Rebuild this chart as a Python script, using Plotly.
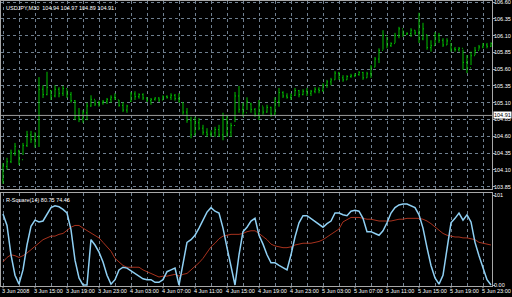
import plotly.graph_objects as go

# ---------------- data ----------------
high = [104.20, 104.28, 104.40, 104.50, 104.40, 104.50, 104.68, 104.68, 104.66, 105.48,
        105.36, 105.56, 105.29, 105.36, 105.33, 105.35, 105.30, 105.26, 105.14, 105.02,
        104.99, 105.10, 105.21, 105.14, 105.13, 105.14, 105.17, 105.21, 105.24, 105.14,
        105.11, 105.07, 105.26, 105.27, 105.24, 105.24, 105.18, 105.17, 105.18, 105.18,
        105.21, 105.21, 105.24, 105.23, 105.24, 105.10, 105.02, 104.89, 104.89, 104.87,
        104.77, 104.72, 104.69, 104.74, 104.77, 104.95, 104.92, 104.80, 105.26, 105.35,
        105.10, 105.18, 105.10, 105.02, 105.14, 105.04, 105.07, 105.04, 105.18, 105.32,
        105.27, 105.24, 105.24, 105.32, 105.29, 105.30, 105.32, 105.29, 105.33, 105.33,
        105.39, 105.44, 105.47, 105.57, 105.56, 105.51, 105.51, 105.53, 105.54, 105.57,
        105.56, 105.56, 105.66, 105.78, 105.91, 106.18, 106.08, 106.00, 106.14, 106.23,
        106.18, 106.15, 106.21, 106.18, 106.44, 106.29, 106.11, 106.03, 106.15, 106.14,
        106.06, 106.06, 105.99, 105.93, 105.93, 105.89, 105.81, 105.86, 105.93, 105.96,
        105.99, 105.99, 106.00]
low = [103.89, 104.10, 104.20, 104.31, 104.17, 104.32, 104.44, 104.50, 104.43, 104.44,
       105.17, 105.21, 105.14, 105.18, 105.18, 105.20, 105.17, 105.10, 104.84, 104.81,
       104.80, 104.84, 105.04, 105.05, 105.04, 105.07, 105.08, 105.10, 105.14, 105.04,
       104.96, 104.95, 105.11, 105.14, 105.16, 105.14, 105.11, 105.07, 105.13, 105.11,
       105.14, 105.16, 105.14, 105.13, 105.10, 104.92, 104.80, 104.57, 104.62, 104.69,
       104.62, 104.59, 104.59, 104.59, 104.59, 104.54, 104.59, 104.59, 104.81, 104.95,
       104.89, 104.99, 104.95, 104.89, 104.84, 104.92, 104.95, 104.89, 104.92, 105.04,
       105.17, 105.16, 105.14, 105.20, 105.18, 105.21, 105.20, 105.20, 105.24, 105.24,
       105.26, 105.32, 105.36, 105.44, 105.44, 105.41, 105.44, 105.47, 105.48, 105.50,
       105.44, 105.47, 105.47, 105.63, 105.69, 105.89, 105.91, 105.93, 105.99, 106.06,
       106.08, 106.11, 106.08, 106.11, 105.99, 106.03, 105.89, 105.86, 105.96, 105.99,
       105.93, 105.96, 105.86, 105.86, 105.86, 105.59, 105.54, 105.66, 105.81, 105.89,
       105.91, 105.91, 105.93]
open_ = [103.95, 104.15, 104.22, 104.35, 104.38, 104.25, 104.46, 104.62, 104.55, 104.60,
         105.30, 105.22, 105.28, 105.20, 105.30, 105.24, 105.31, 105.22, 105.13, 104.90,
         104.86, 104.95, 105.05, 105.15, 105.08, 105.10, 105.12, 105.15, 105.18, 105.14,
         105.06, 104.99, 105.12, 105.23, 105.19, 105.22, 105.17, 105.13, 105.15, 105.17,
         105.14, 105.19, 105.18, 105.21, 105.16, 105.10, 104.96, 104.84, 104.62, 104.80,
         104.72, 104.66, 104.63, 104.65, 104.70, 104.62, 104.85, 104.66, 104.76, 105.20,
         105.00, 104.95, 105.08, 105.00, 104.93, 105.05, 104.96, 105.03, 104.93, 105.12,
         105.25, 105.20, 105.18, 105.21, 105.28, 105.22, 105.27, 105.24, 105.27, 105.30,
         105.28, 105.36, 105.41, 105.44, 105.54, 105.47, 105.44, 105.49, 105.50, 105.52,
         105.55, 105.47, 105.53, 105.63, 105.75, 105.88, 106.10, 105.95, 105.98, 106.10,
         106.20, 106.12, 106.13, 106.18, 106.14, 106.05, 106.11, 105.92, 105.95, 106.10,
         106.03, 105.96, 106.02, 105.90, 105.89, 105.91, 105.70, 105.62, 105.80, 105.88,
         105.93, 105.96, 105.94]
close = [104.15, 104.22, 104.35, 104.45, 104.25, 104.46, 104.62, 104.55, 104.60, 105.30,
         105.22, 105.33, 105.20, 105.30, 105.24, 105.31, 105.22, 105.13, 104.90, 104.86,
         104.95, 105.05, 105.15, 105.08, 105.10, 105.12, 105.15, 105.18, 105.16, 105.06,
         104.99, 105.05, 105.23, 105.19, 105.22, 105.17, 105.13, 105.15, 105.17, 105.14,
         105.19, 105.18, 105.21, 105.16, 105.12, 104.96, 104.84, 104.62, 104.80, 104.72,
         104.66, 104.63, 104.65, 104.70, 104.62, 104.85, 104.66, 104.76, 105.20, 105.00,
         104.95, 105.12, 105.00, 104.93, 105.05, 104.96, 105.03, 104.93, 105.12, 105.25,
         105.20, 105.18, 105.21, 105.28, 105.22, 105.27, 105.24, 105.27, 105.30, 105.28,
         105.36, 105.41, 105.44, 105.54, 105.47, 105.44, 105.49, 105.50, 105.52, 105.55,
         105.47, 105.53, 105.63, 105.75, 105.88, 106.10, 105.95, 105.98, 106.10, 106.20,
         106.12, 106.13, 106.18, 106.14, 106.05, 106.20, 105.92, 105.95, 106.10, 106.03,
         105.96, 106.02, 105.90, 105.89, 105.91, 105.70, 105.62, 105.80, 105.88, 105.93,
         105.96, 105.94, 105.98]

r_square = [80, 67, 34, 11, 1, 17, 45, 66, 73, 71,
            72, 80, 87, 89, 88, 85, 81, 62, 28, 8,
            0, 0, 51, 45, 37, 26, 11, 1, 6, 17,
            20, 19, 16, 12, 9, 7, 6, 6, 3, 3,
            6, 15, 17, 19, 0, 26, 48, 51, 56, 64,
            74, 82, 87, 83, 81, 64, 42, 22, 0, 34,
            60, 65, 72, 75, 56, 46, 34, 25, 25, 22,
            19, 17, 34, 54, 70, 78, 78, 75, 71, 69,
            65, 69, 72, 81, 81, 79, 78, 83, 84, 83,
            75, 60, 60, 58, 56, 61, 70, 81, 87, 90,
            91, 91, 89, 87, 79, 64, 42, 22, 8, 1,
            11, 42, 70, 75, 81, 73, 79, 71, 48, 33,
            19, 6, 0]
r_square_ma = [26, 31, 34, 33, 31, 33, 36, 40, 44, 47,
               51, 53, 55, 55, 57, 58, 62, 65, 67, 67,
               64, 61, 58, 56, 53, 48, 43, 38, 30, 26,
               22, 20, 20, 20, 20, 17, 15, 13, 11, 9,
               10, 10, 11, 12, 10, 12, 13, 17, 20, 25,
               30, 36, 43, 47, 52, 55, 56, 57, 57, 57,
               58, 60, 61, 61, 58, 55, 51, 46, 44, 43,
               42, 42, 43, 45, 46, 47, 47, 47, 48, 49,
               51, 54, 57, 60, 63, 71, 74, 76, 76, 76,
               75, 74, 74, 73, 72, 72, 72, 72, 73, 74,
               74, 75, 75, 75, 75, 74, 72, 69, 65, 62,
               58, 56, 55, 54, 54, 53, 53, 52, 51, 48,
               47, 46, 45]

time_labels = ["3 Jun 2008", "3 Jun 15:00", "3 Jun 19:00", "3 Jun 23:00",
               "4 Jun 03:00", "4 Jun 07:00", "4 Jun 11:00", "4 Jun 15:00",
               "4 Jun 19:00", "4 Jun 23:00", "5 Jun 03:00", "5 Jun 07:00",
               "5 Jun 11:00", "5 Jun 15:00", "5 Jun 19:00", "5 Jun 23:00"]
price_ticks = [106.60, 106.35, 106.10, 105.85, 105.60, 105.35, 105.10,
               104.85, 104.60, 104.35, 104.10, 103.85]
ind_ticks = [101, 0]
ind_tick_text = ["101", "0.00"]
bid_price = 104.91
title_text = "USDJPY,M30  104.94 104.97 104.89 104.91"
ind_text = "R-Square(14) 80.75 74.46"

# ---------------- styling ----------------
BG = "#000000"
GRID = "#6f7f8f"
FRAME = "#a8a8a8"
GREEN = "#00c000"
BLUE = "#8fd0f4"
RED = "#a8321e"
FAMILY = "Liberation Sans, Arial, sans-serif"
FONT = dict(family=FAMILY, size=5.5, color="#ffffff")

n = len(close)
idx = list(range(n))
label_vals = [8 * k for k in range(len(time_labels))]

fig = go.Figure()
fig.add_trace(go.Ohlc(
    x=idx, open=open_, high=high, low=low, close=close,
    xaxis="x", yaxis="y", tickwidth=0.25,
    increasing=dict(line=dict(color=GREEN, width=1)),
    decreasing=dict(line=dict(color=GREEN, width=1)),
    showlegend=False, hoverinfo="skip"))
fig.add_trace(go.Scatter(x=idx, y=r_square_ma, xaxis="x2", yaxis="y2", mode="lines",
                         line=dict(color=RED, width=1), showlegend=False, hoverinfo="skip"))
fig.add_trace(go.Scatter(x=idx, y=r_square, xaxis="x2", yaxis="y2", mode="lines",
                         line=dict(color=BLUE, width=1.5), showlegend=False, hoverinfo="skip"))

xr = [-0.5, 122.25]
common_x = dict(range=xr, showline=True, mirror=True, linecolor=FRAME, linewidth=1,
                zeroline=False, showgrid=True, gridcolor=GRID, griddash="dot", gridwidth=1)

fig.update_layout(
    width=512, height=297,
    margin=dict(l=1, r=20, t=1, b=11),
    paper_bgcolor=BG, plot_bgcolor=BG,
    font=FONT, showlegend=False,
    xaxis=dict(**common_x, anchor="y", tickmode="linear", tick0=0, dtick=4,
               showticklabels=False, ticks="", rangeslider=dict(visible=False)),
    xaxis2=dict(**common_x, anchor="y2", matches="x", tickmode="linear", tick0=0, dtick=4,
                showticklabels=False, ticks=""),
    yaxis=dict(domain=[0.3404, 1.0], range=[103.814, 106.615], side="right",
               tickmode="array", tickvals=price_ticks, showticklabels=False,
               showgrid=True, gridcolor=GRID, griddash="dot",
               ticks="outside", ticklen=2, tickcolor=FRAME,
               showline=True, mirror=True, linecolor=FRAME, zeroline=False,
               automargin=False),
    yaxis2=dict(domain=[0.0, 0.326], range=[-1.1, 103.4], side="right",
                tickmode="array", tickvals=ind_ticks, showticklabels=False,
                showgrid=False, ticks="outside", ticklen=2, tickcolor=FRAME,
                showline=True, mirror=True, linecolor=FRAME,
                zeroline=False, automargin=False),
)

# price-axis labels
for p in price_ticks:
    fig.add_annotation(xref="paper", yref="y", x=1.0, y=p, xanchor="left", yanchor="middle",
                       text=f"{p:.2f}", showarrow=False, font=FONT, xshift=1, borderpad=0)
# indicator-axis labels
for v, t in zip(ind_ticks, ind_tick_text):
    fig.add_annotation(xref="paper", yref="y2", x=1.0, y=v, xanchor="left", yanchor="middle",
                       text=t, showarrow=False, font=FONT, xshift=1, borderpad=0)
# time labels (left-aligned at their tick) with small tick marks
for v, t in zip(label_vals, time_labels):
    fig.add_annotation(xref="x2", yref="paper", x=v, y=0, xanchor="left", yanchor="top",
                       text=t, showarrow=False, font=FONT, xshift=-2, yshift=-1, borderpad=0)
    fig.add_shape(type="line", xref="x2", yref="paper", x0=v, x1=v, y0=0, y1=-0.008,
                  line=dict(color=FRAME, width=1))

fig.add_shape(type="line", xref="x domain", yref="y", x0=0, x1=1,
              y0=bid_price, y1=bid_price, line=dict(color="#9a9a9a", width=1))
fig.add_annotation(xref="paper", yref="y", x=1.0, y=bid_price, xanchor="left",
                   yanchor="middle", text=f"{bid_price:.2f}", showarrow=False,
                   bgcolor="#ffffff", font=dict(family=FAMILY, size=5.5, color="#000000"),
                   borderpad=0, xshift=1)
fig.add_annotation(xref="paper", yref="paper", x=0, y=1.0, xanchor="left", yanchor="top",
                   text=title_text, showarrow=False, font=FONT, xshift=3, yshift=-2)
fig.add_annotation(xref="paper", yref="y2 domain", x=0, y=1.0, xanchor="left", yanchor="top",
                   text=ind_text, showarrow=False, font=FONT, xshift=3, yshift=-2)

fig.write_html("out.html")
